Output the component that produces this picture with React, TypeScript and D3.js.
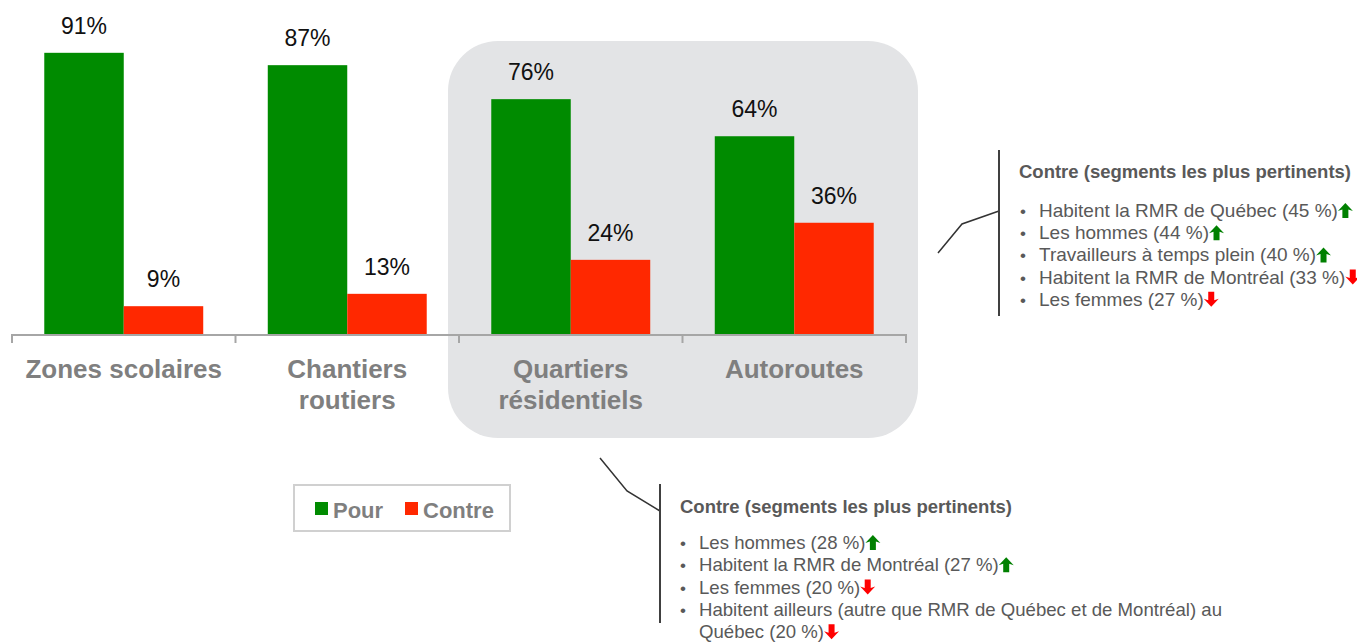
import React, { useRef, useEffect } from "react"
import * as d3 from "d3"

// chart values
const categories = ["Zones scolaires", "Chantiers routiers", "Quartiers résidentiels", "Autoroutes"]
const categoryLines = [["Zones scolaires"], ["Chantiers", "routiers"], ["Quartiers", "résidentiels"], ["Autoroutes"]]
const series = ["Pour", "Contre"]
const pourValues = [91, 87, 76, 64]
const contreValues = [9, 13, 24, 36]
const highlighted = ["Quartiers résidentiels", "Autoroutes"]

const noteTitle = "Contre (segments les plus pertinents)"
const rightNotes = [
  { text: "Habitent la RMR de Québec (45 %)", dir: "up" },
  { text: "Les hommes (44 %)", dir: "up" },
  { text: "Travailleurs à temps plein (40 %)", dir: "up" },
  { text: "Habitent la RMR de Montréal (33 %)", dir: "down" },
  { text: "Les femmes (27 %)", dir: "down" },
]
const bottomNotes = [
  { lines: ["Les hommes (28 %)"], dir: "up" },
  { lines: ["Habitent la RMR de Montréal (27 %)"], dir: "up" },
  { lines: ["Les femmes (20 %)"], dir: "down" },
  { lines: ["Habitent ailleurs (autre que RMR de Québec et de Montréal) au", "Québec (20 %)"], dir: "down" },
]

const GREEN = "#008b00"
const RED = "#ff2800"
const FONT = "'Liberation Sans', Arial, sans-serif"

const App = () => {
  const ref = useRef<SVGSVGElement>(null)
  const width = 1357
  const height = 642

  useEffect(() => {
    const svg = d3.select(ref.current)
    svg.selectAll("*").remove()

    const x0 = d3.scaleBand().domain(categories).range([12, 906]).paddingInner(0).paddingOuter(0)
    const x1 = d3.scaleBand().domain(series).range([0, x0.bandwidth()]).paddingInner(0).paddingOuter(0.406)
    const y = d3.scaleLinear().domain([0, 100]).range([334, 25])
    const color = d3.scaleOrdinal<string>().domain(series).range([GREEN, RED])

    // grey highlight box behind the last two categories
    const hx0 = x0(highlighted[0])! - 11
    const hx1 = x0(highlighted[1])! + x0.bandwidth() + 12
    svg.append("rect")
      .attr("x", hx0).attr("y", 41)
      .attr("width", hx1 - hx0).attr("height", 397)
      .attr("rx", 50).attr("ry", 50)
      .attr("fill", "#e3e4e6")

    const rows = categories.map((c, i) => ({ cat: c, values: [pourValues[i], contreValues[i]] }))

    const groups = svg.selectAll("g.cat")
      .data(rows)
      .enter()
      .append("g")
      .attr("class", "cat")
      .attr("transform", d => `translate(${x0(d.cat)},0)`)

    groups.selectAll("rect")
      .data(d => d.values.map((v, j) => ({ key: series[j], v })))
      .enter()
      .append("rect")
      .attr("x", d => x1(d.key)!)
      .attr("y", d => y(d.v))
      .attr("width", x1.bandwidth())
      .attr("height", d => y(0) - y(d.v))
      .attr("fill", d => color(d.key))

    groups.selectAll("text.val")
      .data(d => d.values.map((v, j) => ({ key: series[j], v })))
      .enter()
      .append("text")
      .attr("class", "val")
      .attr("x", d => x1(d.key)! + x1.bandwidth() / 2)
      .attr("y", d => y(d.v) - 19)
      .attr("text-anchor", "middle")
      .attr("font-family", FONT)
      .attr("font-size", 23)
      .attr("fill", "#111")
      .text(d => d.v + "%")

    // axis
    svg.append("line")
      .attr("x1", x0.range()[0]).attr("x2", x0.range()[1])
      .attr("y1", y(0) + 1).attr("y2", y(0) + 1)
      .attr("stroke", "#a6a6a6").attr("stroke-width", 2)
    const tickXs = categories.map(c => x0(c)!).concat([x0.range()[1]])
    svg.selectAll("line.tick")
      .data(tickXs)
      .enter()
      .append("line")
      .attr("class", "tick")
      .attr("x1", d => d).attr("x2", d => d)
      .attr("y1", y(0)).attr("y2", y(0) + 9)
      .attr("stroke", "#a6a6a6").attr("stroke-width", 2)

    // category labels
    groups.each(function (d, i) {
      const t = d3.select(this).append("text")
        .attr("text-anchor", "middle")
        .attr("font-family", FONT)
        .attr("font-weight", "bold")
        .attr("font-size", 26)
        .attr("fill", "#7f7f7f")
      categoryLines[i].forEach((ln, k) => {
        t.append("tspan")
          .attr("x", x0.bandwidth() / 2)
          .attr("y", 378 + k * 31)
          .text(ln)
      })
    })

    // legend
    const lg = svg.append("g")
    lg.append("rect")
      .attr("x", 294).attr("y", 485).attr("width", 216).attr("height", 46)
      .attr("fill", "white").attr("stroke", "#d0d0d0").attr("stroke-width", 2)
    const legendX = [315, 405]
    series.forEach((s, i) => {
      lg.append("rect")
        .attr("x", legendX[i]).attr("y", 502).attr("width", 13).attr("height", 13)
        .attr("fill", color(s))
      lg.append("text")
        .attr("x", legendX[i] + 18).attr("y", 518)
        .attr("font-family", FONT).attr("font-weight", "bold").attr("font-size", 22)
        .attr("fill", "#7f7f7f")
        .text(s)
    })

    const arrow = (g: any, x: number, base: number, dir: string) => {
      const w = 15, h = 15, hh = 8, sw = 3, top = base - h + 1
      const cx = x + w / 2
      const p = dir === "up"
        ? `M${cx},${top} L${x + w},${top + hh} L${cx + sw},${top + hh - 1.5} L${cx + sw},${top + h} L${cx - sw},${top + h} L${cx - sw},${top + hh - 1.5} L${x},${top + hh} Z`
        : `M${cx},${top + h} L${x + w},${top + h - hh} L${cx + sw},${top + h - hh + 1.5} L${cx + sw},${top} L${cx - sw},${top} L${cx - sw},${top + h - hh + 1.5} L${x},${top + h - hh} Z`
      g.append("path").attr("d", p).attr("fill", dir === "up" ? "#008000" : "#ff0000")
    }

    const callout = (opts: any) => {
      const g = svg.append("g")
      g.append("path")
        .attr("d", d3.line()(opts.connector))
        .attr("fill", "none").attr("stroke", "#333").attr("stroke-width", 1.5)
      g.append("line")
        .attr("x1", opts.barX).attr("x2", opts.barX)
        .attr("y1", opts.barY[0]).attr("y2", opts.barY[1])
        .attr("stroke", "#404040").attr("stroke-width", 2)
      g.append("text")
        .attr("x", opts.titleX).attr("y", opts.titleY)
        .attr("font-family", FONT).attr("font-weight", "bold").attr("font-size", 18.5)
        .attr("fill", "#595959")
        .text(noteTitle)
      let lineIdx = 0
      opts.items.forEach((it: any) => {
        g.append("text")
          .attr("x", opts.bulletX).attr("y", opts.firstY + lineIdx * opts.step)
          .attr("font-family", FONT).attr("font-size", 17)
          .attr("fill", "#595959")
          .text("•")
        let last: any = null
        let lastY = 0
        it.lines.forEach((ln: string) => {
          lastY = opts.firstY + lineIdx * opts.step
          last = g.append("text")
            .attr("x", opts.textX).attr("y", lastY)
            .attr("font-family", FONT).attr("font-size", opts.fontSize)
            .attr("fill", "#595959")
            .text(ln)
          lineIdx++
        })
        const len = (last.node() as SVGTextElement).getComputedTextLength()
        arrow(g, opts.textX + len, lastY, it.dir)
      })
    }

    callout({
      connector: [[938, 253], [962, 224], [999, 211]],
      barX: 999, barY: [150, 316],
      titleX: 1019, titleY: 178,
      bulletX: 1020, textX: 1039,
      firstY: 217, step: 22.2, fontSize: 19,
      items: rightNotes.map(n => ({ lines: [n.text], dir: n.dir })),
    })

    callout({
      connector: [[600, 458], [627, 491], [660, 511]],
      barX: 660, barY: [484, 623],
      titleX: 680, titleY: 513,
      bulletX: 680, textX: 699,
      firstY: 549, step: 22.3, fontSize: 18.6,
      items: bottomNotes,
    })
  }, [])

  return (
    <svg ref={ref} width={width} height={height}
      style={{ position: "absolute", left: 0, top: 0, background: "white" }} />
  )
}

export default App
